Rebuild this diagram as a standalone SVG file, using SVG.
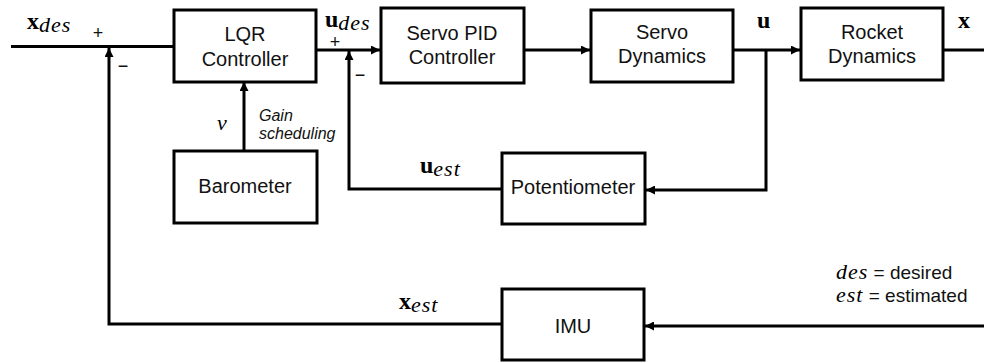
<svg xmlns="http://www.w3.org/2000/svg" width="984" height="363" viewBox="0 0 984 363">
  <style>
    .box { fill: #ffffff; stroke: #000000; stroke-width: 3; }
    .wire { fill: none; stroke: #000000; stroke-width: 3; stroke-linejoin: miter; }
    .lbl { font-family: "Liberation Sans", Arial, sans-serif; font-size: 20px; fill: #111111; text-anchor: middle; }
    .note { font-family: "Liberation Sans", Arial, sans-serif; font-size: 16px; font-style: italic; fill: #111111; }
    .sign { font-family: "Liberation Sans", Arial, sans-serif; font-size: 18px; fill: #111111; text-anchor: middle; }
    .mb { font-family: "Liberation Serif", "Times New Roman", serif; font-size: 24px; font-weight: bold; fill: #000000; }
    .mi { font-family: "Liberation Serif", "Times New Roman", serif; font-size: 22px; font-style: italic; fill: #000000; letter-spacing: 1px; }
    .legend { font-family: "Liberation Sans", Arial, sans-serif; font-size: 19px; fill: #111111; }
  </style>
  <defs>
    <marker id="arrow" viewBox="0 0 10 10" refX="10" refY="5" markerWidth="9" markerHeight="9" markerUnits="userSpaceOnUse" orient="auto">
      <path d="M0,0 L10,5 L0,10 z" fill="#000000"/>
    </marker>
  </defs>

  <!-- signal lines -->
  <g id="connectors">
    <path class="wire" d="M11,46.5 H174"/>
    <path class="wire" d="M502,324 H109 V48" marker-end="url(#arrow)"/>
    <path class="wire" d="M316,50 H380" marker-end="url(#arrow)"/>
    <path class="wire" d="M502,189 H349 V51" marker-end="url(#arrow)"/>
    <path class="wire" d="M244,151 V82" marker-end="url(#arrow)"/>
    <path class="wire" d="M524,50 H590" marker-end="url(#arrow)"/>
    <path class="wire" d="M733,50 H800" marker-end="url(#arrow)"/>
    <path class="wire" d="M766,50 V190 H646" marker-end="url(#arrow)"/>
    <path class="wire" d="M943,50 H984"/>
    <path class="wire" d="M984,326 H645" marker-end="url(#arrow)"/>
  </g>

  <!-- summing junction signs -->
  <g id="signs">
    <text class="sign" x="98" y="39">+</text>
    <text class="sign" x="123" y="72">−</text>
    <text class="sign" x="335" y="48">+</text>
    <text class="sign" x="360" y="81">−</text>
  </g>

  <g id="lqr">
    <rect class="box" x="174" y="10" width="142" height="72"/>
    <text class="lbl" x="245" y="41">LQR</text>
    <text class="lbl" x="245" y="66">Controller</text>
  </g>

  <g id="servo-pid">
    <rect class="box" x="381" y="8" width="143" height="75"/>
    <text class="lbl" x="452" y="40">Servo PID</text>
    <text class="lbl" x="452" y="64">Controller</text>
  </g>

  <g id="servo-dynamics">
    <rect class="box" x="591" y="10" width="142" height="72"/>
    <text class="lbl" x="662" y="39">Servo</text>
    <text class="lbl" x="662" y="63">Dynamics</text>
  </g>

  <g id="rocket-dynamics">
    <rect class="box" x="801" y="8" width="142" height="72"/>
    <text class="lbl" x="872" y="39">Rocket</text>
    <text class="lbl" x="872" y="63">Dynamics</text>
  </g>

  <g id="barometer">
    <rect class="box" x="174" y="151" width="143" height="72"/>
    <text class="lbl" x="245" y="193">Barometer</text>
  </g>

  <g id="potentiometer">
    <rect class="box" x="502" y="153" width="143" height="71"/>
    <text class="lbl" x="573" y="194">Potentiometer</text>
  </g>

  <g id="imu">
    <rect class="box" x="502" y="289" width="142" height="71"/>
    <text class="lbl" x="573" y="333">IMU</text>
  </g>

  <!-- signal names -->
  <g id="signal-labels">
    <text x="27" y="29"><tspan class="mb">x</tspan><tspan class="mi" dy="3">des</tspan></text>
    <text x="325" y="27"><tspan class="mb">u</tspan><tspan class="mi" dy="3">des</tspan></text>
    <text class="mb" x="757" y="28">u</text>
    <text class="mb" x="958" y="28">x</text>
    <text class="mi" x="217" y="130">v</text>
    <text class="note" x="259" y="121">Gain</text>
    <text class="note" x="259" y="139">scheduling</text>
    <text x="420" y="173"><tspan class="mb">u</tspan><tspan class="mi" dy="3">est</tspan></text>
    <text x="399" y="309"><tspan class="mb">x</tspan><tspan class="mi" dy="3">est</tspan></text>
  </g>

  <g id="legend">
    <text x="836" y="279"><tspan class="mi">des</tspan><tspan class="legend"> = desired</tspan></text>
    <text x="836" y="302"><tspan class="mi">est</tspan><tspan class="legend"> = estimated</tspan></text>
  </g>
</svg>
